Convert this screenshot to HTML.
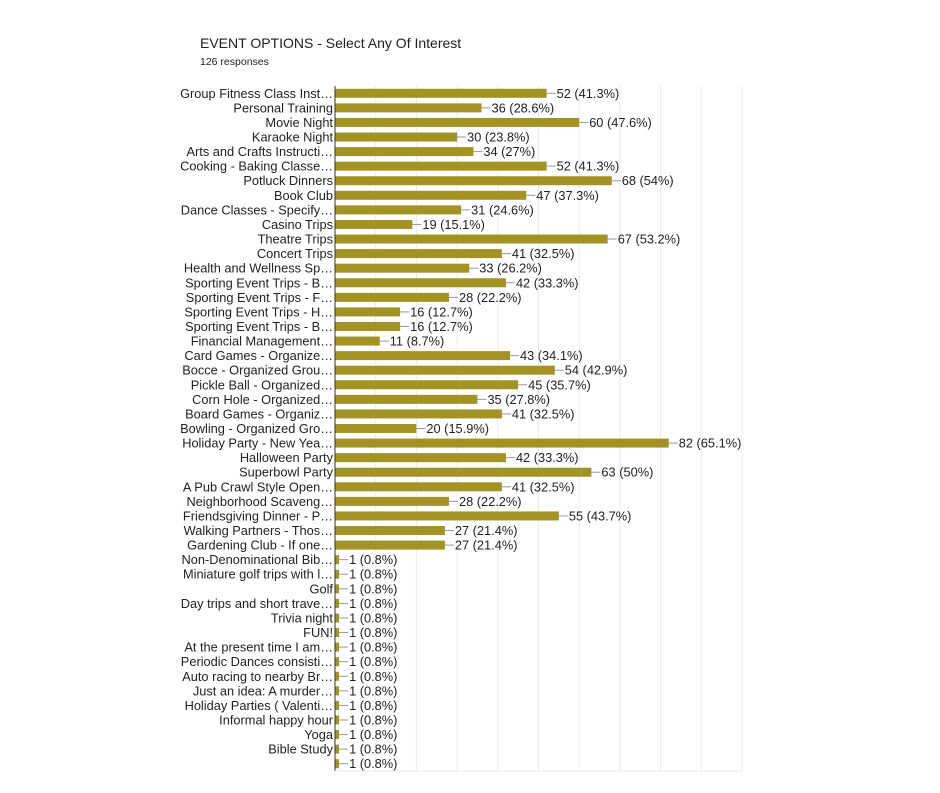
<!DOCTYPE html>
<html><head><meta charset="utf-8"><style>
body{margin:0;background:#fff;width:940px;height:788px;overflow:hidden;font-family:"Liberation Sans",sans-serif}
svg text{font-family:"Liberation Sans",sans-serif}
</style></head><body>
<svg id="c" width="940" height="788">
<text x="200" y="48" font-size="14" fill="#202124">EVENT OPTIONS - Select Any Of Interest</text>
<text x="200" y="65" font-size="10.5" fill="#202124">126 responses</text>
</svg>
<script>
const categories=["Group Fitness Class Inst…","Personal Training","Movie Night","Karaoke Night","Arts and Crafts Instructi…","Cooking - Baking Classe…","Potluck Dinners","Book Club","Dance Classes - Specify…","Casino Trips","Theatre Trips","Concert Trips","Health and Wellness Sp…","Sporting Event Trips - B…","Sporting Event Trips - F…","Sporting Event Trips - H…","Sporting Event Trips - B…","Financial Management…","Card Games - Organize…","Bocce - Organized Grou…","Pickle Ball - Organized…","Corn Hole - Organized…","Board Games - Organiz…","Bowling - Organized Gro…","Holiday Party - New Yea…","Halloween Party","Superbowl Party","A Pub Crawl Style Open…","Neighborhood Scaveng…","Friendsgiving Dinner - P…","Walking Partners - Thos…","Gardening Club - If one…","Non-Denominational Bib…","Miniature golf trips with l…","Golf","Day trips and short trave…","Trivia night","FUN!","At the present time I am…","Periodic Dances consisti…","Auto racing to nearby Br…","Just an idea: A murder…","Holiday Parties ( Valenti…","Informal happy hour","Yoga","Bible Study",""];
const counts=[52,36,60,30,34,52,68,47,31,19,67,41,33,42,28,16,16,11,43,54,45,35,41,20,82,42,63,41,28,55,27,27,1,1,1,1,1,1,1,1,1,1,1,1,1,1,1];
const percents=["41.3%","28.6%","47.6%","23.8%","27%","41.3%","54%","37.3%","24.6%","15.1%","53.2%","32.5%","26.2%","33.3%","22.2%","12.7%","12.7%","8.7%","34.1%","42.9%","35.7%","27.8%","32.5%","15.9%","65.1%","33.3%","50%","32.5%","22.2%","43.7%","21.4%","21.4%","0.8%","0.8%","0.8%","0.8%","0.8%","0.8%","0.8%","0.8%","0.8%","0.8%","0.8%","0.8%","0.8%","0.8%","0.8%"];
const ticks=[0,10,20,30,40,50,60,70,80,90,100];
const svg=document.getElementById('c'),NS='http://www.w3.org/2000/svg';
const x0=335,x1=742,plotTop=86,plotBottom=771;
const xs=v=>x0+(x1-x0)*v/100;
const rowH=(plotBottom-plotTop)/categories.length;
const ys=i=>plotTop+rowH*(i+0.5);
function mk(t,a){const e=document.createElementNS(NS,t);for(const k in a)e.setAttribute(k,a[k]);svg.appendChild(e);return e;}
ticks.forEach(t=>{if(t===0)return;const g=mk('line',{x1:xs(t),x2:xs(t),y1:plotTop,y2:plotBottom,stroke:'#ebebeb','stroke-width':1});

});
categories.forEach((c,i)=>{const y=ys(i),v=counts[i];
const b=mk('rect',{x:x0,y:y-4.5,width:xs(v)-x0,height:9,fill:'#a39224'});


const l=mk('line',{x1:xs(v),x2:xs(v)+9,y1:y,y2:y,stroke:'#999','stroke-width':1});


const vt=mk('text',{x:xs(v)+10,y:y+4.5,'font-size':12.8,fill:'#222'});vt.textContent=v+' ('+percents[i]+')';


const ct=mk('text',{x:x0-2,y:y+4.5,'font-size':12.8,fill:'#222','text-anchor':'end'});ct.textContent=c;

});
const ax=mk('line',{x1:x0,x2:x0,y1:plotTop,y2:plotBottom,stroke:'#333','stroke-width':1});


const bl=mk('line',{x1:x0,x2:x1,y1:plotBottom,y2:plotBottom,stroke:'#ebebeb','stroke-width':1});


</script>
</body></html>
